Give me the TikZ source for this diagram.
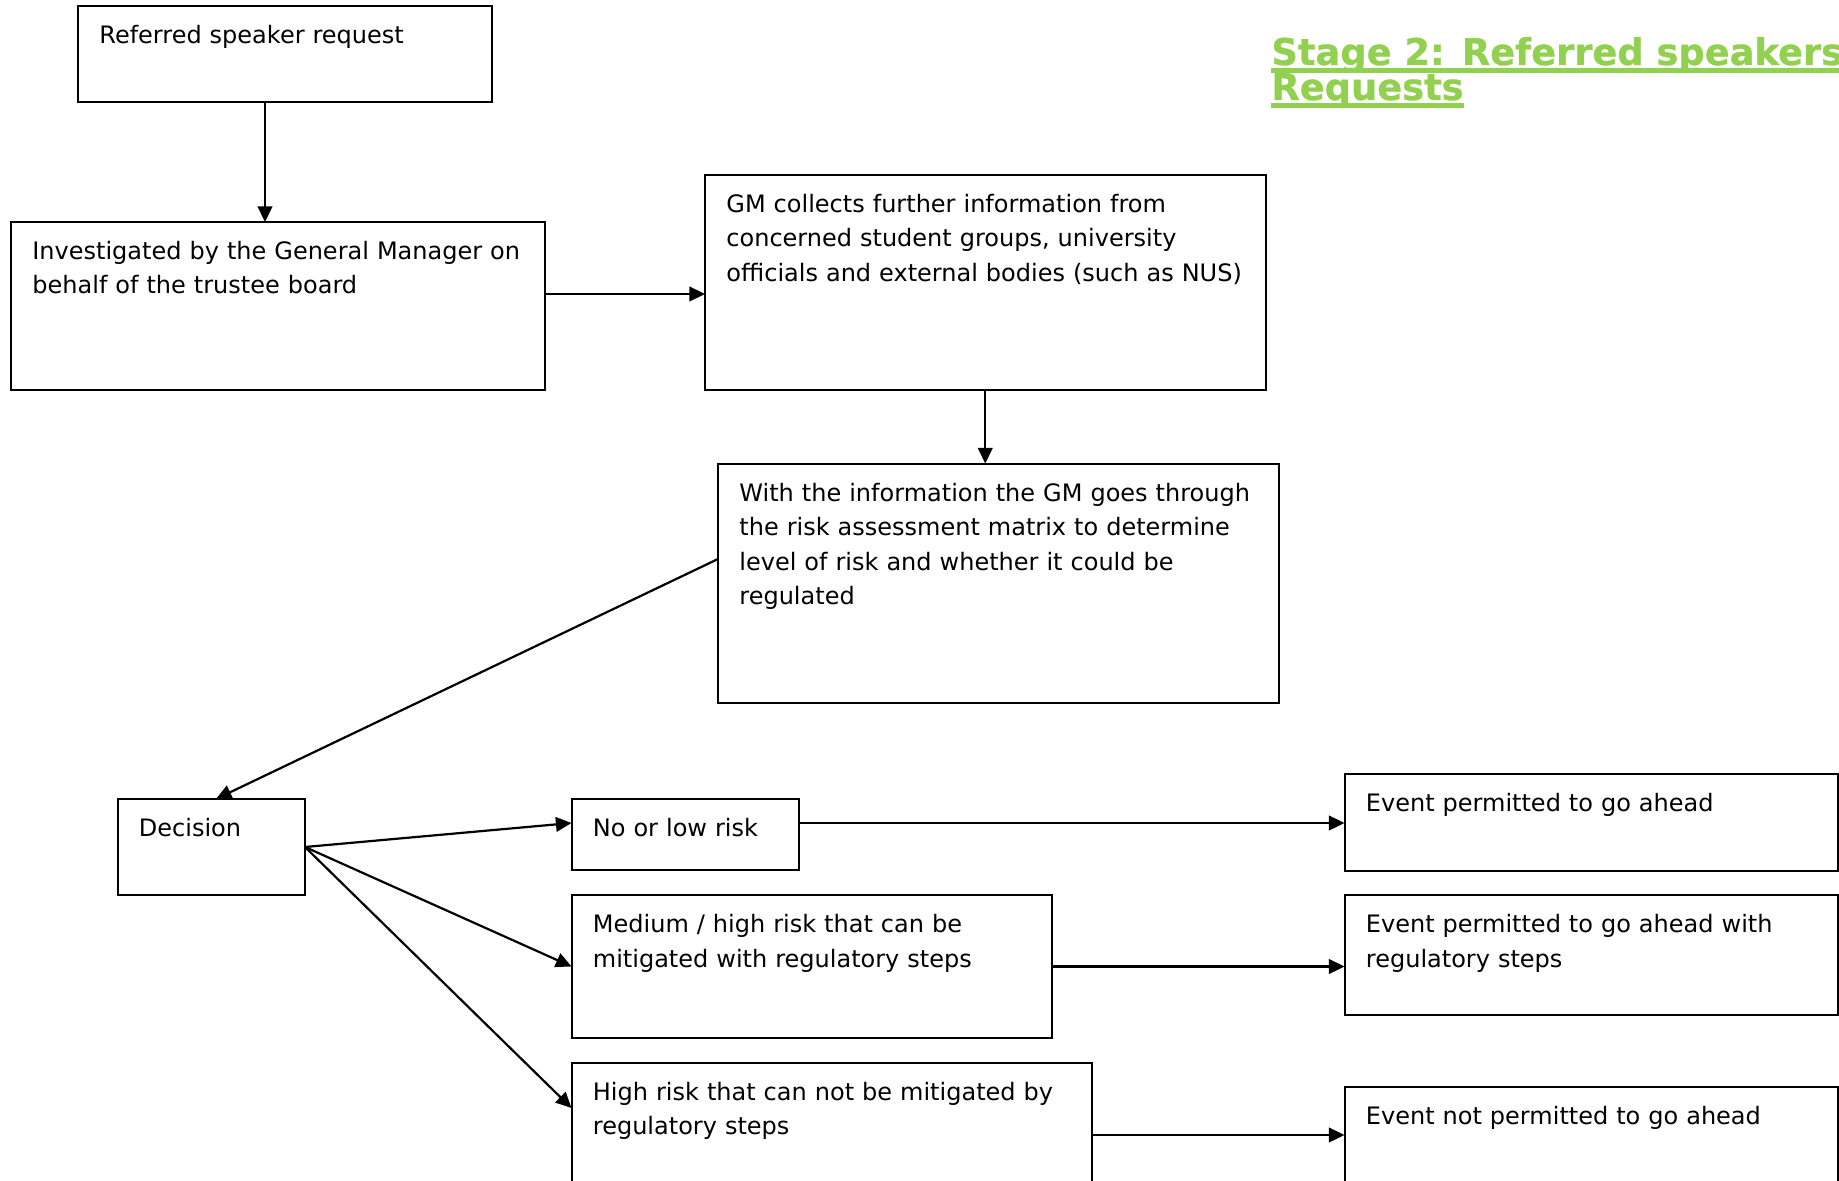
\documentclass[tikz,border=0pt]{standalone}
\usepackage{fontspec}
\setmainfont{DejaVu Sans}
\newfontfamily\titlefont[BoldFeatures={FakeBold=0.8}]{DejaVu Sans}
\usetikzlibrary{arrows.meta,calc}
\definecolor{titlegreen}{RGB}{146,208,80}
\tikzset{
  boxst/.style={draw, rectangle, line width=1pt, inner sep=0pt, outer sep=0pt, anchor=north west},
  txt/.style={anchor=base west, inner sep=0pt, text width=300pt, align=left, font=\fontsize{12}{17.25}\selectfont},
  ttl/.style={anchor=base west, inner sep=0pt, text=titlegreen, font=\titlefont\fontsize{18.4}{22}\selectfont\bfseries},
  arr/.style={-{Triangle[length=7.8pt,width=7.3pt]}, line width=1.1pt},
  uline/.style={titlegreen, line width=2.1pt}
}
\newcommand\mybox[5]{\node[boxst, minimum width={(#4-#2)*0.5pt}, minimum height={(#5-#3)*0.5pt}] (#1) at (#2,#3) {};}
\newcommand\mytext[2]{\node[txt] (#1t) at ($(#1.north west)+(21,37.5)$) {#2};}
\begin{document}
\begin{tikzpicture}[x=0.5pt,y=-0.5pt]
\useasboundingbox (0,0) rectangle (1839,1181);
\clip (0,0) rectangle (1839,1181);
% boxes
\mybox{b1}{78}{6}{492}{102}
\mybox{b2}{11}{222}{545}{390.5}
\mybox{b3}{705}{175}{1265.5}{390.5}
\mybox{b4}{718}{463.5}{1278.5}{702.5}
\mybox{dec}{117.5}{799}{305}{895}
\mybox{low}{571.5}{799}{799}{870}
\mybox{med}{571.5}{895}{1052}{1038}
\mybox{high}{571.5}{1062.5}{1092}{1250}
\mybox{e1}{1344.5}{774}{1837.5}{870.5}
\mybox{e2}{1344.5}{895}{1837.5}{1015}
\mybox{e3}{1344.5}{1086.5}{1837.5}{1250}
% texts
\mytext{b1}{Referred speaker request}
\mytext{b2}{Investigated by the General Manager on\\behalf of the trustee board}
\mytext{b3}{GM collects further information from\\concerned student groups, university\\officials and external bodies (such as NUS)}
\mytext{b4}{With the information the GM goes through\\the risk assessment matrix to determine\\level of risk and whether it could be\\regulated}
\mytext{dec}{Decision}
\mytext{low}{No or low risk}
\mytext{med}{Medium / high risk that can be\\mitigated with regulatory steps}
\mytext{high}{High risk that can not be mitigated by\\regulatory steps}
\mytext{e1}{Event permitted to go ahead}
\mytext{e2}{Event permitted to go ahead with\\regulatory steps}
\mytext{e3}{Event not permitted to go ahead}
% title
\node[ttl] (t1) at (1271,65) {Stage 2: Referred speakers};
\node[ttl] (t2) at (1271,100) {Requests};
\draw[uline] ($(t1.base west)+(0,5.5)$) -- ($(t1.base east)+(0,5.5)$);
\draw[uline] ($(t2.base west)+(0,5.5)$) -- ($(t2.base east)+(0,5.5)$);
% connectors
\coordinate (a1) at ($(b1.south west)+(187,0)$);
\draw[arr] (a1) -- (a1 |- b2.north);
\coordinate (a2) at ($(b2.north east)+(0,72)$);
\draw[arr] (a2) -- (a2 -| b3.west);
\draw[arr] (b3.south) -- (b3.south |- b4.north);
\coordinate (a4s) at ($(b4.north west)+(0,95.5)$);
\coordinate (a4e) at ($(dec.north west)+(98.5,0)$);
\draw[arr] (a4s) -- (a4e);
\coordinate (a5) at ($(low.north west)+(0,24)$);
\draw[arr] (dec.east) -- (a5);
\draw[arr] (dec.east) -- (med.west);
\coordinate (a7) at ($(high.north west)+(0,45.5)$);
\draw[arr] (dec.east) -- (a7);
\coordinate (a8) at ($(low.north east)+(0,24)$);
\draw[arr] (a8) -- (a8 -| e1.west);
\draw[arr] (med.east) -- (med.east -| e2.west);
\coordinate (a10) at ($(high.north east)+(0,72.5)$);
\draw[arr] (a10) -- (a10 -| e3.west);
\end{tikzpicture}
\end{document}
